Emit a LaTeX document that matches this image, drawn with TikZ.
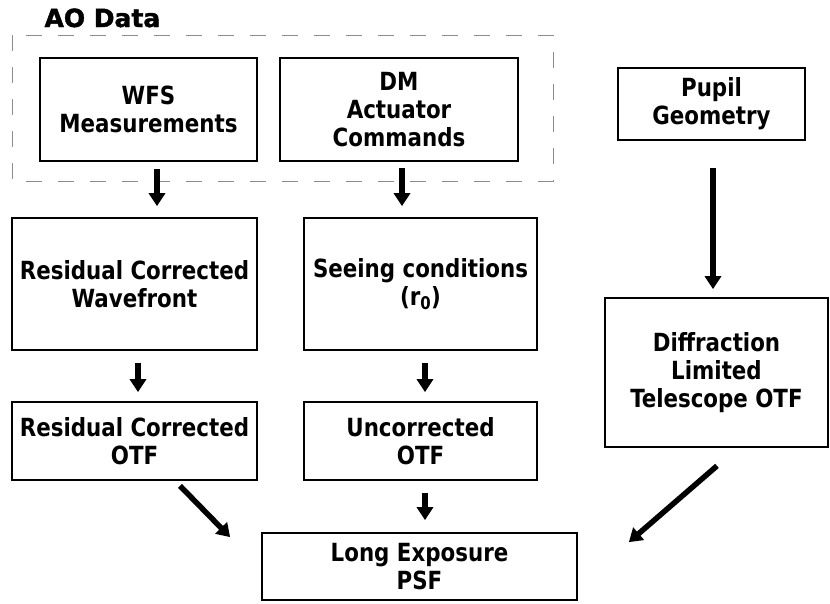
\documentclass[tikz,border=0pt]{standalone}
\usepackage{fontspec}
\setmainfont{DejaVu Sans Condensed}[FakeStretch=0.95]
\newfontfamily\aofont{DejaVu Sans}[FakeBold=1.6]
\usetikzlibrary{arrows.meta}
\begin{document}
\begin{tikzpicture}[x=1pt,y=-1pt,
  box/.style={draw=black,line width=1.7pt,inner sep=0pt,align=center,
    font=\bfseries\fontsize{25}{28}\selectfont},
  arr/.style={draw=black,line width=5.5pt,-{Triangle[width=16pt,length=13pt]}},
  grp/.style={draw=black!45,line width=0.9pt,dash pattern=on 16pt off 16pt}]
\useasboundingbox (0,0) rectangle (830,603);
\draw[grp] (12,35) rectangle (553,181);
\node[font=\aofont\bfseries\fontsize{25}{30}\selectfont,anchor=base west] (ao) at (41,27) {AO Data};
\node[box,minimum width=217,minimum height=103] (wfs) at (148.5,109.5) {WFS\\Measurements};
\node[box,minimum width=238,minimum height=103] (dm) at (399,109.5) {DM\\Actuator\\Commands};
\node[box,minimum width=187,minimum height=72] (pup) at (711.5,104) {Pupil\\Geometry};
\node[box,minimum width=245,minimum height=132] (res) at (134.5,284) {Residual Corrected\\Wavefront};
\node[box,minimum width=233,minimum height=132] (see) at (420.5,284) {Seeing conditions\\(r\textsubscript{0})};
\node[box,minimum width=223,minimum height=149] (dif) at (716.5,372.5) {Diffraction\\Limited\\Telescope OTF};
\node[box,minimum width=245,minimum height=78] (rotf) at (134.5,441) {Residual Corrected\\OTF};
\node[box,minimum width=233,minimum height=78] (unc) at (420.5,441) {Uncorrected\\OTF};
\node[box,minimum width=315,minimum height=67] (psf) at (419.5,566.5) {Long Exposure\\PSF};
\draw[arr] ([shift={(8.5,7)}]wfs.south) -- ([shift={(22.5,-11)}]res.north);
\draw[arr] ([shift={(3,6)}]dm.south) -- ([shift={(-18.5,-11)}]see.north);
\draw[arr] ([shift={(3.5,12)}]res.south) -- ([shift={(3.5,-9)}]rotf.north);
\draw[arr] ([shift={(4.5,12)}]see.south) -- ([shift={(4.5,-9)}]unc.north);
\draw[arr] ([shift={(1.5,27)}]pup.south) -- ([shift={(-3.5,-8)}]dif.north);
\draw[arr] ([shift={(4.5,12)}]unc.south) -- ([shift={(5.5,-12)}]psf.north);
\draw[arr] ([shift={(45.5,5)}]rotf.south) -- ([shift={(-31,5)}]psf.north west);
\draw[arr] ([shift={(0.5,18)}]dif.south) -- ([shift={(51,10)}]psf.north east);
\end{tikzpicture}
\end{document}
